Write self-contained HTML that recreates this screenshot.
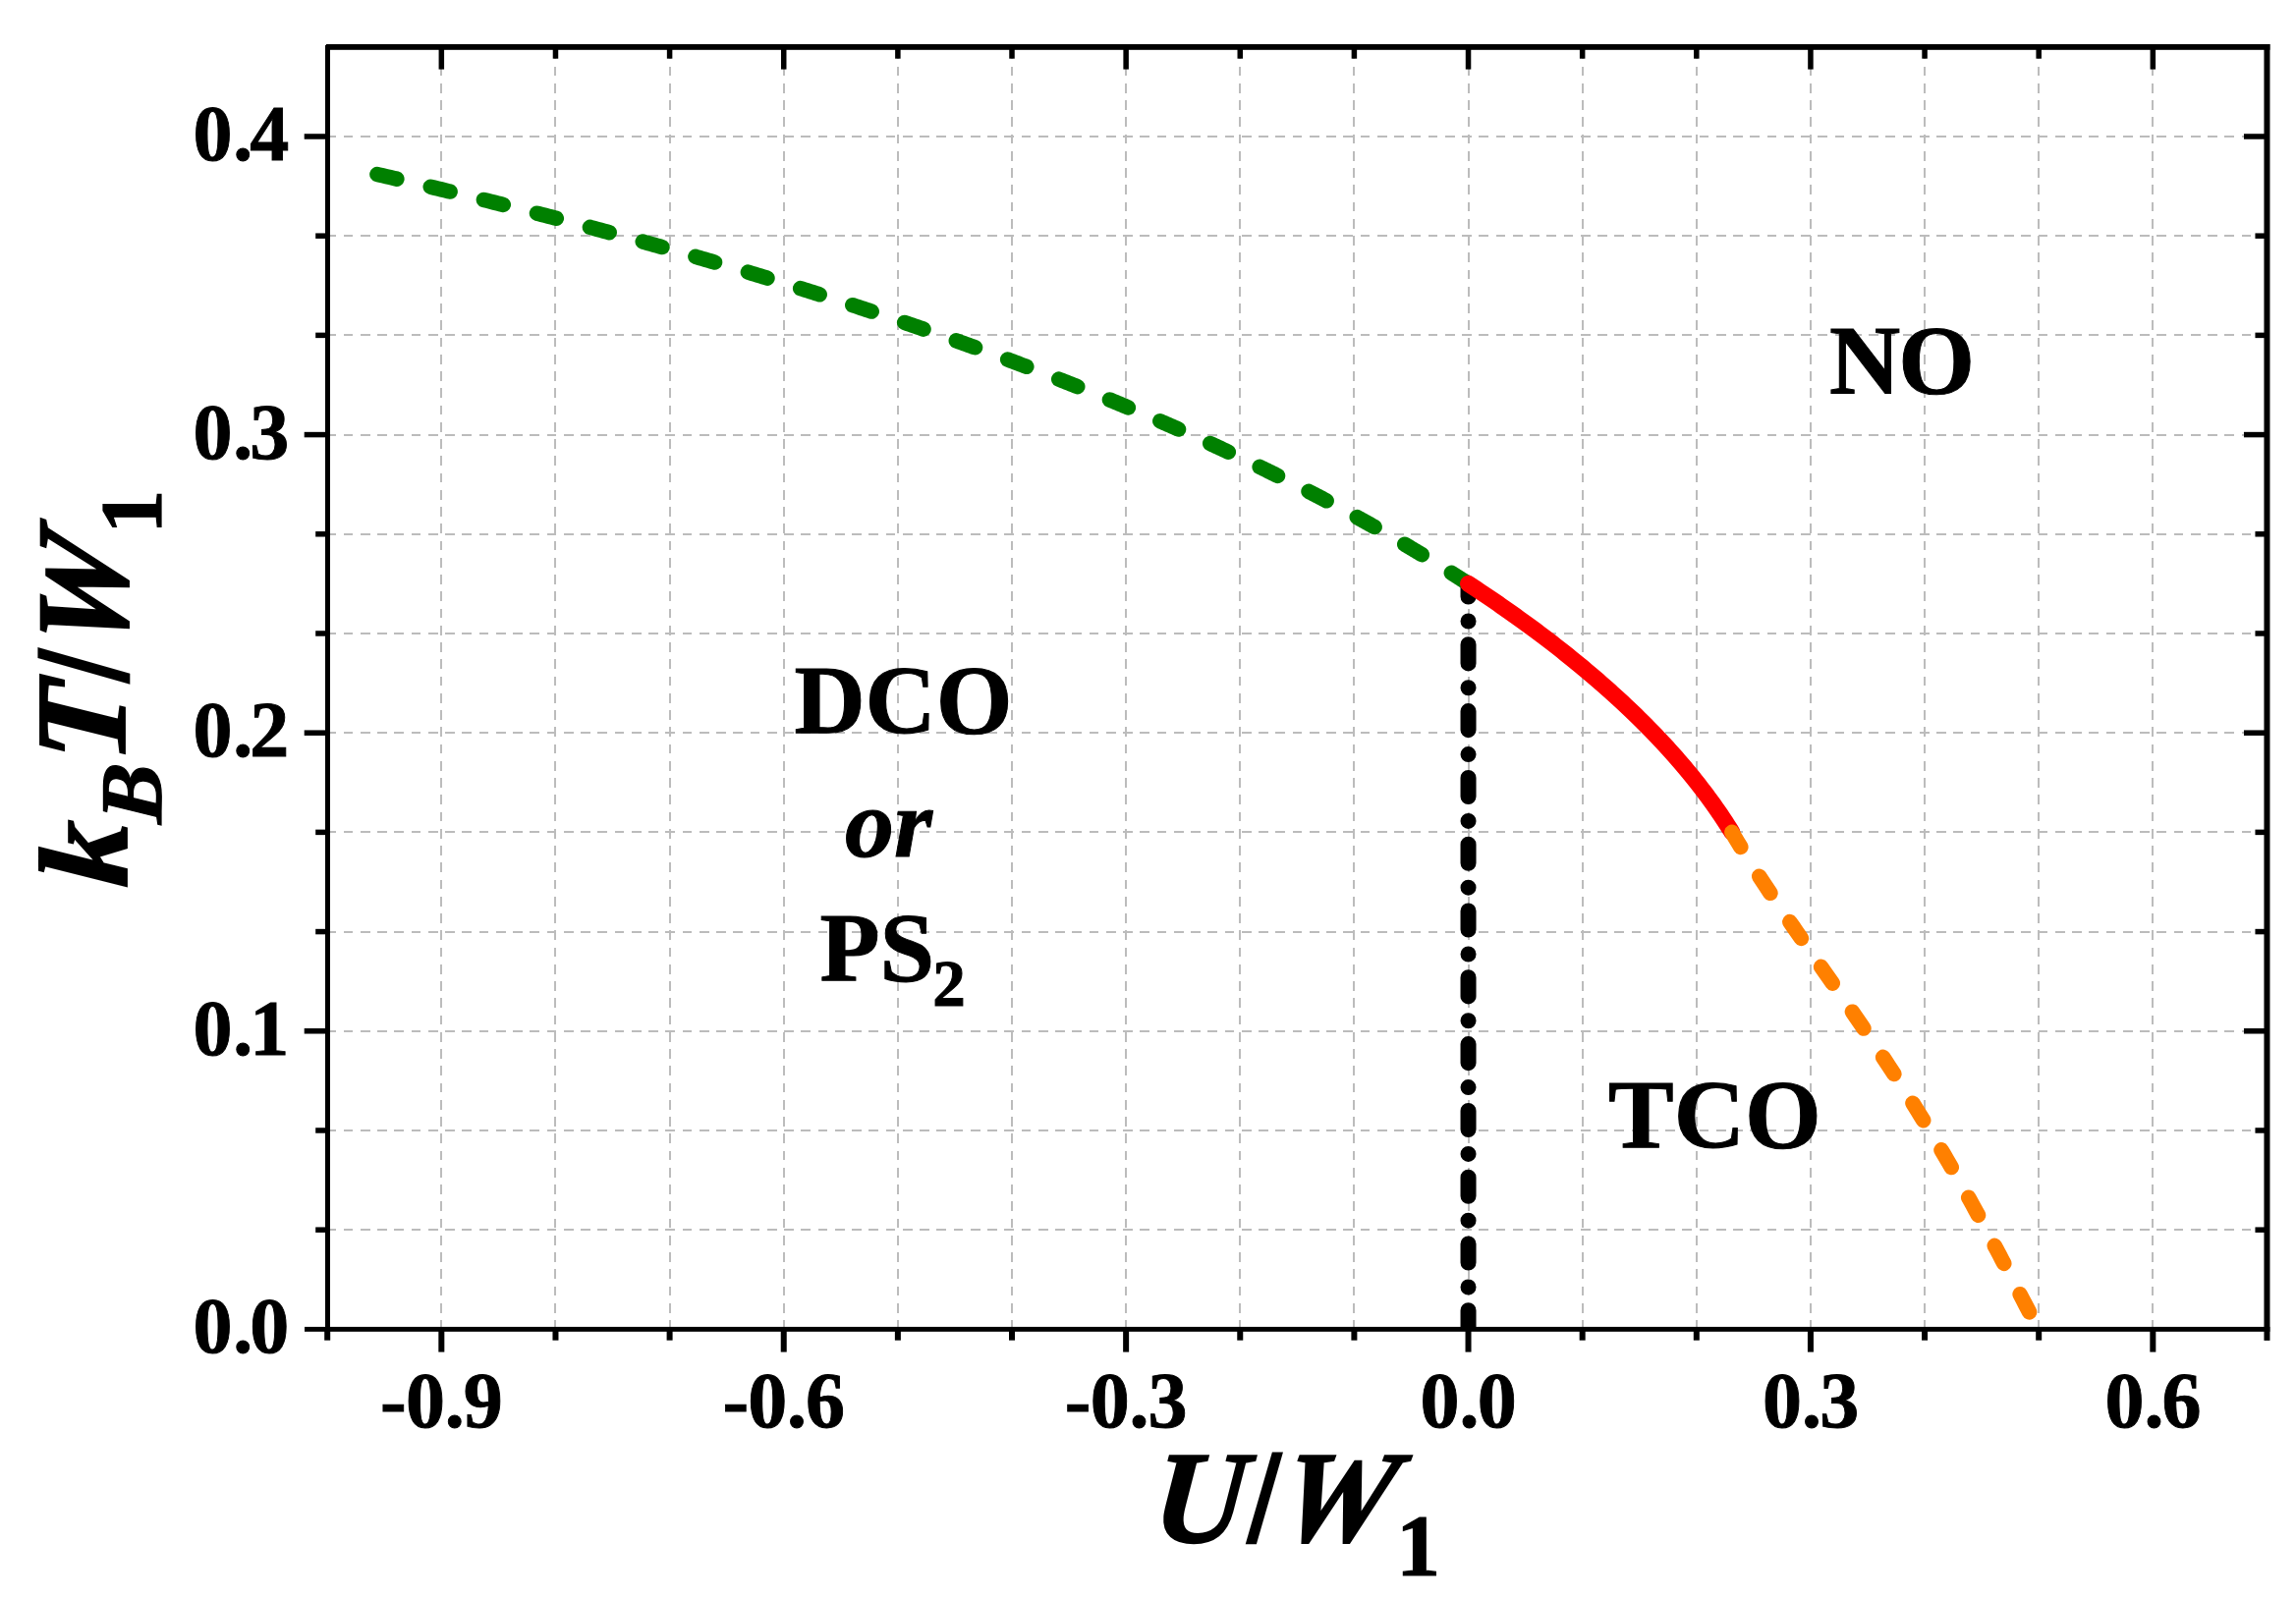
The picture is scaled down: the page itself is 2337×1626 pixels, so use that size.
<!DOCTYPE html>
<html lang="en"><head><meta charset="utf-8"><title>Phase diagram</title>
<style>html,body{margin:0;padding:0;background:#fff}body{width:2337px;height:1626px;overflow:hidden}svg{display:block}text{font-family:"Liberation Serif",serif;font-weight:bold;fill:#000}text{stroke:#000;stroke-linejoin:miter}.tk{font-size:80px;stroke-width:0.9px}.rg{font-size:100px;stroke-width:1px}.ax{font-size:134px;stroke-width:1.9px}.sb{font-size:90px;stroke-width:1.25px}.it{font-style:italic}</style></head><body>
<svg width="2337" height="1626" viewBox="0 0 2337 1626">
<rect width="2337" height="1626" fill="#fff"/>
<defs><clipPath id="plot"><rect x="333.20" y="47.90" width="1974.26" height="1305.48"/></clipPath></defs>
<g stroke="#bcbcbc" stroke-dasharray="9.7 7.55" fill="none" shape-rendering="crispEdges">
<g stroke-width="2">
<path d="M449.00 1353.78V47.90"/>
<path d="M565.00 1353.78V47.90"/>
<path d="M682.00 1353.78V47.90"/>
<path d="M798.00 1353.78V47.90"/>
<path d="M914.00 1353.78V47.90"/>
<path d="M1030.00 1353.78V47.90"/>
<path d="M1146.00 1353.78V47.90"/>
<path d="M1262.00 1353.78V47.90"/>
<path d="M1378.00 1353.78V47.90"/>
<path d="M1495.00 1353.78V47.90"/>
<path d="M1611.00 1353.78V47.90"/>
<path d="M1727.00 1353.78V47.90"/>
<path d="M1843.00 1353.78V47.90"/>
<path d="M1959.00 1353.78V47.90"/>
<path d="M2075.00 1353.78V47.90"/>
<path d="M2191.00 1353.78V47.90"/>
</g><g stroke-width="2">
<path d="M332.45 1252.18H2307.46"/>
<path d="M332.45 1150.98H2307.46"/>
<path d="M332.45 1049.78H2307.46"/>
<path d="M332.45 948.58H2307.46"/>
<path d="M332.45 847.38H2307.46"/>
<path d="M332.45 746.18H2307.46"/>
<path d="M332.45 644.98H2307.46"/>
<path d="M332.45 543.78H2307.46"/>
<path d="M332.45 442.58H2307.46"/>
<path d="M332.45 341.38H2307.46"/>
<path d="M332.45 240.18H2307.46"/>
<path d="M332.45 138.98H2307.46"/>
</g></g>
<path clip-path="url(#plot)" d="M1494.53 1353.38V594.38" stroke="#000" stroke-width="16" stroke-linecap="round" stroke-dasharray="19.1 23.8 0 24.9" fill="none"/>
<path d="M1494.53 594.38 L1493.18 593.50 L1491.83 592.62 L1490.47 591.74 L1489.12 590.86 L1487.76 589.98 L1486.39 589.10 L1485.02 588.22 L1483.65 587.34 L1482.28 586.46 L1480.90 585.58 L1479.52 584.70 L1478.14 583.81 L1476.75 582.93 L1475.36 582.05 L1473.97 581.17 L1472.57 580.29 L1471.17 579.41 L1469.77 578.53 L1468.37 577.65 L1466.96 576.77 L1465.55 575.89 L1464.13 575.01 L1462.71 574.13 L1461.29 573.25 L1459.87 572.37 L1458.44 571.49 L1457.01 570.61 L1455.57 569.73 L1454.13 568.85 L1452.69 567.97 L1451.25 567.09 L1449.80 566.21 L1448.35 565.33 L1446.90 564.45 L1445.44 563.56 L1443.98 562.68 L1442.51 561.80 L1441.05 560.92 L1439.58 560.04 L1438.10 559.16 L1436.63 558.28 L1435.15 557.40 L1433.66 556.52 L1432.18 555.64 L1430.69 554.76 L1429.19 553.88 L1427.70 553.00 L1426.20 552.12 L1424.69 551.24 L1423.19 550.36 L1421.68 549.48 L1420.16 548.60 L1418.65 547.72 L1417.13 546.84 L1415.60 545.96 L1414.08 545.08 L1412.55 544.19 L1411.01 543.31 L1409.48 542.43 L1407.94 541.55 L1406.39 540.67 L1404.85 539.79 L1403.30 538.91 L1401.74 538.03 L1400.18 537.15 L1398.62 536.27 L1397.06 535.39 L1395.49 534.51 L1393.92 533.63 L1392.35 532.75 L1390.77 531.87 L1389.19 530.99 L1387.60 530.11 L1386.02 529.23 L1384.43 528.35 L1382.83 527.47 L1381.23 526.59 L1379.63 525.71 L1378.03 524.83 L1376.42 523.94 L1374.81 523.06 L1373.19 522.18 L1371.57 521.30 L1369.95 520.42 L1368.32 519.54 L1366.69 518.66 L1365.06 517.78 L1363.42 516.90 L1361.78 516.02 L1360.14 515.14 L1358.49 514.26 L1356.84 513.38 L1355.19 512.50 L1353.53 511.62 L1351.87 510.74 L1350.20 509.86 L1348.54 508.98 L1346.86 508.10 L1345.19 507.22 L1343.51 506.34 L1341.83 505.46 L1340.14 504.58 L1338.45 503.69 L1336.76 502.81 L1335.06 501.93 L1333.36 501.05 L1331.65 500.17 L1329.95 499.29 L1328.24 498.41 L1326.52 497.53 L1324.80 496.65 L1323.08 495.77 L1321.35 494.89 L1319.62 494.01 L1317.89 493.13 L1316.15 492.25 L1314.41 491.37 L1312.67 490.49 L1310.92 489.61 L1309.17 488.73 L1307.41 487.85 L1305.65 486.97 L1303.89 486.09 L1302.12 485.21 L1300.35 484.32 L1298.58 483.44 L1296.80 482.56 L1295.02 481.68 L1293.23 480.80 L1291.44 479.92 L1289.65 479.04 L1287.85 478.16 L1286.05 477.28 L1284.25 476.40 L1282.44 475.52 L1280.63 474.64 L1278.81 473.76 L1276.99 472.88 L1275.17 472.00 L1273.34 471.12 L1271.51 470.24 L1269.68 469.36 L1267.84 468.48 L1266.00 467.60 L1264.15 466.72 L1262.30 465.84 L1260.45 464.96 L1258.59 464.07 L1256.73 463.19 L1254.86 462.31 L1252.99 461.43 L1251.12 460.55 L1249.24 459.67 L1247.36 458.79 L1245.47 457.91 L1243.58 457.03 L1241.69 456.15 L1239.79 455.27 L1237.89 454.39 L1235.99 453.51 L1234.08 452.63 L1232.16 451.75 L1230.25 450.87 L1228.33 449.99 L1226.40 449.11 L1224.47 448.23 L1222.54 447.35 L1220.60 446.47 L1218.66 445.59 L1216.71 444.71 L1214.77 443.82 L1212.81 442.94 L1210.85 442.06 L1208.89 441.18 L1206.93 440.30 L1204.96 439.42 L1202.98 438.54 L1201.01 437.66 L1199.02 436.78 L1197.04 435.90 L1195.05 435.02 L1193.05 434.14 L1191.06 433.26 L1189.05 432.38 L1187.05 431.50 L1185.04 430.62 L1183.02 429.74 L1181.00 428.86 L1178.98 427.98 L1176.95 427.10 L1174.92 426.22 L1172.88 425.34 L1170.84 424.46 L1168.80 423.57 L1166.75 422.69 L1164.69 421.81 L1162.64 420.93 L1160.57 420.05 L1158.51 419.17 L1156.44 418.29 L1154.36 417.41 L1152.29 416.53 L1150.20 415.65 L1148.11 414.77 L1146.02 413.89 L1143.93 413.01 L1141.83 412.13 L1139.72 411.25 L1137.61 410.37 L1135.50 409.49 L1133.38 408.61 L1131.26 407.73 L1129.13 406.85 L1127.00 405.97 L1124.86 405.09 L1122.72 404.20 L1120.58 403.32 L1118.43 402.44 L1116.28 401.56 L1114.12 400.68 L1111.96 399.80 L1109.79 398.92 L1107.62 398.04 L1105.44 397.16 L1103.26 396.28 L1101.07 395.40 L1098.89 394.52 L1096.69 393.64 L1094.49 392.76 L1092.29 391.88 L1090.08 391.00 L1087.87 390.12 L1085.65 389.24 L1083.43 388.36 L1081.20 387.48 L1078.97 386.60 L1076.74 385.72 L1074.50 384.84 L1072.25 383.95 L1070.00 383.07 L1067.75 382.19 L1065.49 381.31 L1063.22 380.43 L1060.95 379.55 L1058.68 378.67 L1056.40 377.79 L1054.12 376.91 L1051.83 376.03 L1049.54 375.15 L1047.24 374.27 L1044.94 373.39 L1042.63 372.51 L1040.32 371.63 L1038.01 370.75 L1035.68 369.87 L1033.36 368.99 L1031.03 368.11 L1028.69 367.23 L1026.35 366.35 L1024.01 365.47 L1021.65 364.59 L1019.30 363.70 L1016.94 362.82 L1014.57 361.94 L1012.20 361.06 L1009.83 360.18 L1007.45 359.30 L1005.06 358.42 L1002.67 357.54 L1000.27 356.66 L997.87 355.78 L995.47 354.90 L993.06 354.02 L990.64 353.14 L988.22 352.26 L985.79 351.38 L983.36 350.50 L980.93 349.62 L978.49 348.74 L976.04 347.86 L973.59 346.98 L971.13 346.10 L968.67 345.22 L966.20 344.34 L963.73 343.45 L961.25 342.57 L958.77 341.69 L956.28 340.81 L953.79 339.93 L951.29 339.05 L948.78 338.17 L946.27 337.29 L943.76 336.41 L941.24 335.53 L938.71 334.65 L936.18 333.77 L933.64 332.89 L931.10 332.01 L928.56 331.13 L926.00 330.25 L923.44 329.37 L920.88 328.49 L918.31 327.61 L915.74 326.73 L913.16 325.85 L910.57 324.97 L907.98 324.08 L905.38 323.20 L902.78 322.32 L900.17 321.44 L897.56 320.56 L894.94 319.68 L892.32 318.80 L889.69 317.92 L887.05 317.04 L884.41 316.16 L881.76 315.28 L879.11 314.40 L876.45 313.52 L873.78 312.64 L871.11 311.76 L868.44 310.88 L865.76 310.00 L863.07 309.12 L860.37 308.24 L857.67 307.36 L854.97 306.48 L852.26 305.60 L849.54 304.72 L846.82 303.83 L844.09 302.95 L841.35 302.07 L838.61 301.19 L835.87 300.31 L833.11 299.43 L830.35 298.55 L827.59 297.67 L824.82 296.79 L822.04 295.91 L819.26 295.03 L816.47 294.15 L813.67 293.27 L810.87 292.39 L808.06 291.51 L805.25 290.63 L802.43 289.75 L799.60 288.87 L796.77 287.99 L793.93 287.11 L791.09 286.23 L788.24 285.35 L785.38 284.47 L782.51 283.58 L779.64 282.70 L776.77 281.82 L773.88 280.94 L770.99 280.06 L768.10 279.18 L765.19 278.30 L762.29 277.42 L759.37 276.54 L756.45 275.66 L753.52 274.78 L750.58 273.90 L747.64 273.02 L744.69 272.14 L741.74 271.26 L738.78 270.38 L735.81 269.50 L732.83 268.62 L729.85 267.74 L726.86 266.86 L723.87 265.98 L720.87 265.10 L717.86 264.21 L714.84 263.33 L711.82 262.45 L708.79 261.57 L705.75 260.69 L702.71 259.81 L699.66 258.93 L696.60 258.05 L693.54 257.17 L690.47 256.29 L687.39 255.41 L684.31 254.53 L681.21 253.65 L678.12 252.77 L675.01 251.89 L671.90 251.01 L668.77 250.13 L665.65 249.25 L662.51 248.37 L659.37 247.49 L656.22 246.61 L653.06 245.73 L649.90 244.85 L646.73 243.96 L643.55 243.08 L640.36 242.20 L637.17 241.32 L633.97 240.44 L630.76 239.56 L627.54 238.68 L624.32 237.80 L621.09 236.92 L617.85 236.04 L614.60 235.16 L611.35 234.28 L608.08 233.40 L604.81 232.52 L601.54 231.64 L598.25 230.76 L594.96 229.88 L591.66 229.00 L588.35 228.12 L585.03 227.24 L581.71 226.36 L578.38 225.48 L575.04 224.60 L571.69 223.71 L568.33 222.83 L564.97 221.95 L561.60 221.07 L558.21 220.19 L554.83 219.31 L551.43 218.43 L548.02 217.55 L544.61 216.67 L541.19 215.79 L537.76 214.91 L534.32 214.03 L530.88 213.15 L527.42 212.27 L523.96 211.39 L520.49 210.51 L517.00 209.63 L513.52 208.75 L510.02 207.87 L506.51 206.99 L503.00 206.11 L499.47 205.23 L495.94 204.35 L492.40 203.46 L488.85 202.58 L485.29 201.70 L481.73 200.82 L478.15 199.94 L474.57 199.06 L470.97 198.18 L467.37 197.30 L463.76 196.42 L460.14 195.54 L456.51 194.66 L452.87 193.78 L449.22 192.90 L445.56 192.02 L441.89 191.14 L438.22 190.26 L434.53 189.38 L430.84 188.50 L427.13 187.62 L423.42 186.74 L419.70 185.86 L415.96 184.98 L412.22 184.09 L408.47 183.21 L404.71 182.33 L400.94 181.45 L397.16 180.57 L393.36 179.69 L389.56 178.81 L385.75 177.93 L383.84 177.49" stroke="#008000" stroke-width="15.5" stroke-linecap="round" stroke-dasharray="20.5 35.28" fill="none"/>
<path d="M1494.53 594.38 L1498.39 596.91 L1502.22 599.44 L1506.03 601.97 L1509.81 604.50 L1513.56 607.03 L1517.30 609.56 L1521.00 612.09 L1524.68 614.62 L1528.33 617.15 L1531.96 619.68 L1535.57 622.21 L1539.15 624.74 L1542.70 627.27 L1546.23 629.80 L1549.74 632.33 L1553.22 634.86 L1556.68 637.39 L1560.11 639.92 L1563.52 642.45 L1566.90 644.98 L1570.26 647.51 L1573.59 650.04 L1576.90 652.57 L1580.19 655.10 L1583.45 657.63 L1586.69 660.16 L1589.90 662.69 L1593.09 665.22 L1596.26 667.75 L1599.40 670.28 L1602.52 672.81 L1605.61 675.34 L1608.69 677.87 L1611.73 680.40 L1614.76 682.93 L1617.76 685.46 L1620.74 687.99 L1623.69 690.52 L1626.62 693.05 L1629.53 695.58 L1632.42 698.11 L1635.28 700.64 L1638.12 703.17 L1640.93 705.70 L1643.73 708.23 L1646.49 710.76 L1649.24 713.29 L1651.97 715.82 L1654.67 718.35 L1657.34 720.88 L1660.00 723.41 L1662.63 725.94 L1665.24 728.47 L1667.83 731.00 L1670.40 733.53 L1672.94 736.06 L1675.46 738.59 L1677.95 741.12 L1680.43 743.65 L1682.88 746.18 L1685.31 748.71 L1687.72 751.24 L1690.10 753.77 L1692.47 756.30 L1694.81 758.83 L1697.13 761.36 L1699.42 763.89 L1701.70 766.42 L1703.95 768.95 L1706.18 771.48 L1708.38 774.01 L1710.57 776.54 L1712.73 779.07 L1714.87 781.60 L1716.99 784.13 L1719.09 786.66 L1721.17 789.19 L1723.22 791.72 L1725.25 794.25 L1727.26 796.78 L1729.25 799.31 L1731.21 801.84 L1733.16 804.37 L1735.08 806.90 L1736.98 809.43 L1738.86 811.96 L1740.71 814.49 L1742.55 817.02 L1744.36 819.55 L1746.15 822.08 L1747.92 824.61 L1749.66 827.14 L1751.39 829.67 L1753.09 832.20 L1754.77 834.73 L1756.43 837.26 L1758.07 839.79 L1759.69 842.32 L1761.28 844.85 L1762.85 847.38" stroke="#ff0000" stroke-width="17" stroke-linecap="round" fill="none"/>
<path clip-path="url(#plot)" d="M1762.85 847.38 L1765.84 852.44 L1768.87 857.50 L1771.94 862.56 L1775.05 867.62 L1778.20 872.68 L1781.39 877.74 L1784.61 882.80 L1787.86 887.86 L1791.15 892.92 L1794.46 897.98 L1797.79 903.04 L1801.15 908.10 L1804.54 913.16 L1807.94 918.22 L1811.37 923.28 L1814.81 928.34 L1818.26 933.40 L1821.73 938.46 L1825.22 943.52 L1828.71 948.58 L1832.21 953.64 L1835.72 958.70 L1839.24 963.76 L1842.76 968.82 L1846.29 973.88 L1849.82 978.94 L1853.34 984.00 L1856.87 989.06 L1860.40 994.12 L1863.92 999.18 L1867.44 1004.24 L1870.96 1009.30 L1874.47 1014.36 L1877.97 1019.42 L1881.46 1024.48 L1884.95 1029.54 L1888.42 1034.60 L1891.88 1039.66 L1895.34 1044.72 L1898.78 1049.78 L1902.20 1054.84 L1905.61 1059.90 L1909.01 1064.96 L1912.40 1070.02 L1915.76 1075.08 L1919.11 1080.14 L1922.45 1085.20 L1925.76 1090.26 L1929.06 1095.32 L1932.34 1100.38 L1935.60 1105.44 L1938.84 1110.50 L1942.06 1115.56 L1945.26 1120.62 L1948.45 1125.68 L1951.61 1130.74 L1954.75 1135.80 L1957.87 1140.86 L1960.97 1145.92 L1964.06 1150.98 L1967.12 1156.04 L1970.16 1161.10 L1973.18 1166.16 L1976.17 1171.22 L1979.15 1176.28 L1982.11 1181.34 L1985.05 1186.40 L1987.97 1191.46 L1990.87 1196.52 L1993.76 1201.58 L1996.62 1206.64 L1999.47 1211.70 L2002.29 1216.76 L2005.11 1221.82 L2007.90 1226.88 L2010.68 1231.94 L2013.44 1237.00 L2016.19 1242.06 L2018.93 1247.12 L2021.65 1252.18 L2024.36 1257.24 L2027.05 1262.30 L2029.74 1267.36 L2032.42 1272.42 L2035.09 1277.48 L2037.74 1282.54 L2040.40 1287.60 L2043.04 1292.66 L2045.68 1297.72 L2048.32 1302.78 L2050.96 1307.84 L2053.59 1312.90 L2056.22 1317.96 L2058.85 1323.02 L2061.49 1328.08 L2064.13 1333.14 L2066.77 1338.20 L2069.42 1343.26 L2072.08 1348.32 L2074.75 1353.38" stroke="#ff8000" stroke-width="15.5" stroke-linecap="round" stroke-dasharray="20.5 35.28" stroke-dashoffset="3" fill="none"/>
<g fill="#000">
<rect x="331" y="46" width="5" height="1309.78"/>
<rect x="2304.46" y="45" width="6" height="1319.88"/>
<rect x="332" y="45" width="1978.46" height="5.8"/>
<rect x="310" y="1350.93" width="2000.46" height="4.9"/>
<rect x="330.20" y="1353.38" width="6" height="11.30"/>
<rect x="446.33" y="1353.38" width="6" height="23.20"/>
<rect x="446.58" y="47.90" width="5.5" height="22.70"/>
<rect x="562.47" y="1353.38" width="6" height="11.30"/>
<rect x="562.72" y="47.90" width="5.5" height="11.80"/>
<rect x="678.60" y="1353.38" width="6" height="11.30"/>
<rect x="678.85" y="47.90" width="5.5" height="11.80"/>
<rect x="794.73" y="1353.38" width="6" height="23.20"/>
<rect x="794.98" y="47.90" width="5.5" height="22.70"/>
<rect x="910.87" y="1353.38" width="6" height="11.30"/>
<rect x="911.12" y="47.90" width="5.5" height="11.80"/>
<rect x="1027.00" y="1353.38" width="6" height="11.30"/>
<rect x="1027.25" y="47.90" width="5.5" height="11.80"/>
<rect x="1143.13" y="1353.38" width="6" height="23.20"/>
<rect x="1143.38" y="47.90" width="5.5" height="22.70"/>
<rect x="1259.26" y="1353.38" width="6" height="11.30"/>
<rect x="1259.51" y="47.90" width="5.5" height="11.80"/>
<rect x="1375.40" y="1353.38" width="6" height="11.30"/>
<rect x="1375.65" y="47.90" width="5.5" height="11.80"/>
<rect x="1491.53" y="1353.38" width="6" height="23.20"/>
<rect x="1491.78" y="47.90" width="5.5" height="22.70"/>
<rect x="1607.66" y="1353.38" width="6" height="11.30"/>
<rect x="1607.91" y="47.90" width="5.5" height="11.80"/>
<rect x="1723.80" y="1353.38" width="6" height="11.30"/>
<rect x="1724.05" y="47.90" width="5.5" height="11.80"/>
<rect x="1839.93" y="1353.38" width="6" height="23.20"/>
<rect x="1840.18" y="47.90" width="5.5" height="22.70"/>
<rect x="1956.06" y="1353.38" width="6" height="11.30"/>
<rect x="1956.31" y="47.90" width="5.5" height="11.80"/>
<rect x="2072.19" y="1353.38" width="6" height="11.30"/>
<rect x="2072.44" y="47.90" width="5.5" height="11.80"/>
<rect x="2188.33" y="1353.38" width="6" height="23.20"/>
<rect x="2188.58" y="47.90" width="5.5" height="22.70"/>
<rect x="321.20" y="1249.43" width="12.00" height="5.5"/>
<rect x="2295.46" y="1249.43" width="12.00" height="5.5"/>
<rect x="321.20" y="1148.23" width="12.00" height="5.5"/>
<rect x="2295.46" y="1148.23" width="12.00" height="5.5"/>
<rect x="309.70" y="1047.03" width="23.50" height="5.5"/>
<rect x="2283.96" y="1047.03" width="23.50" height="5.5"/>
<rect x="321.20" y="945.83" width="12.00" height="5.5"/>
<rect x="2295.46" y="945.83" width="12.00" height="5.5"/>
<rect x="321.20" y="844.63" width="12.00" height="5.5"/>
<rect x="2295.46" y="844.63" width="12.00" height="5.5"/>
<rect x="309.70" y="743.43" width="23.50" height="5.5"/>
<rect x="2283.96" y="743.43" width="23.50" height="5.5"/>
<rect x="321.20" y="642.23" width="12.00" height="5.5"/>
<rect x="2295.46" y="642.23" width="12.00" height="5.5"/>
<rect x="321.20" y="541.03" width="12.00" height="5.5"/>
<rect x="2295.46" y="541.03" width="12.00" height="5.5"/>
<rect x="309.70" y="439.83" width="23.50" height="5.5"/>
<rect x="2283.96" y="439.83" width="23.50" height="5.5"/>
<rect x="321.20" y="338.63" width="12.00" height="5.5"/>
<rect x="2295.46" y="338.63" width="12.00" height="5.5"/>
<rect x="321.20" y="237.43" width="12.00" height="5.5"/>
<rect x="2295.46" y="237.43" width="12.00" height="5.5"/>
<rect x="309.70" y="136.23" width="23.50" height="5.5"/>
<rect x="2283.96" y="136.23" width="23.50" height="5.5"/>
</g>
<g class="tk">
<text x="196.5 237.2 254.2" y="1377.3">0.0</text>
<text x="196.5 237.2 254.2" y="1073.7">0.1</text>
<text x="196.5 237.2 254.2" y="770.1">0.2</text>
<text x="196.5 237.2 254.2" y="466.5">0.3</text>
<text x="196.5 237.2 254.2" y="162.9">0.4</text>
<text x="387.0 412.9 452.7 471.7" y="1452.6">-0.9</text>
<text x="735.4 761.3 801.1 820.1" y="1452.6">-0.6</text>
<text x="1083.8 1109.7 1149.5 1168.5" y="1452.6">-0.3</text>
<text x="1445.6 1485.6 1503.8" y="1452.6">0.0</text>
<text x="1794.0 1834.0 1852.2" y="1452.6">0.3</text>
<text x="2142.4 2182.4 2200.6" y="1452.6">0.6</text>
</g>
<g class="rg">
<text x="1862" y="400.3">N<tspan dx="-2">O</tspan></text>
<text x="808.4" y="745.8">DCO</text>
<text x="860" y="872" class="it">or</text>
<text x="834.5" y="998">PS<tspan font-size="67" dx="-2" dy="26.3">2</tspan></text>
<text x="1637" y="1168.4">TCO</text>
</g>
<g>
<text class="ax it" transform="translate(1171.50 1570.10) skewX(-5.00) scale(0.9715 1.0000)">U</text>
<text class="ax" transform="translate(1270.30 1569.70) skewX(2.50) scale(0.9947 1.0264)">/</text>
<text class="ax it" transform="translate(1296.60 1568.60) skewX(-11.00) scale(0.9753 0.9891)">W</text>
<text class="sb" transform="translate(1421.20 1603.30) scale(0.9941 0.9936)">1</text>
</g>
<g>
<text class="ax it" transform="translate(129.10 904.00) rotate(-90) skewX(-4.00) scale(0.9746 0.9579)">k</text>
<text class="sb it" transform="translate(163.70 839.20) rotate(-90) skewX(-4.00) scale(0.9936 0.9936)">B</text>
<text class="ax it" transform="translate(127.40 777.90) rotate(-90) skewX(-4.00) scale(0.9880 0.9800)">T</text>
<text class="ax" transform="translate(130.00 694.30) rotate(-90) skewX(2.50) scale(0.9843 1.0264)">/</text>
<text class="ax it" transform="translate(129.30 667.90) rotate(-90) skewX(-11.00) scale(0.9686 0.9957)">W</text>
<text class="sb" transform="translate(163.20 543.40) rotate(-90) scale(0.9941 0.9871)">1</text>
</g>
</svg></body></html>
